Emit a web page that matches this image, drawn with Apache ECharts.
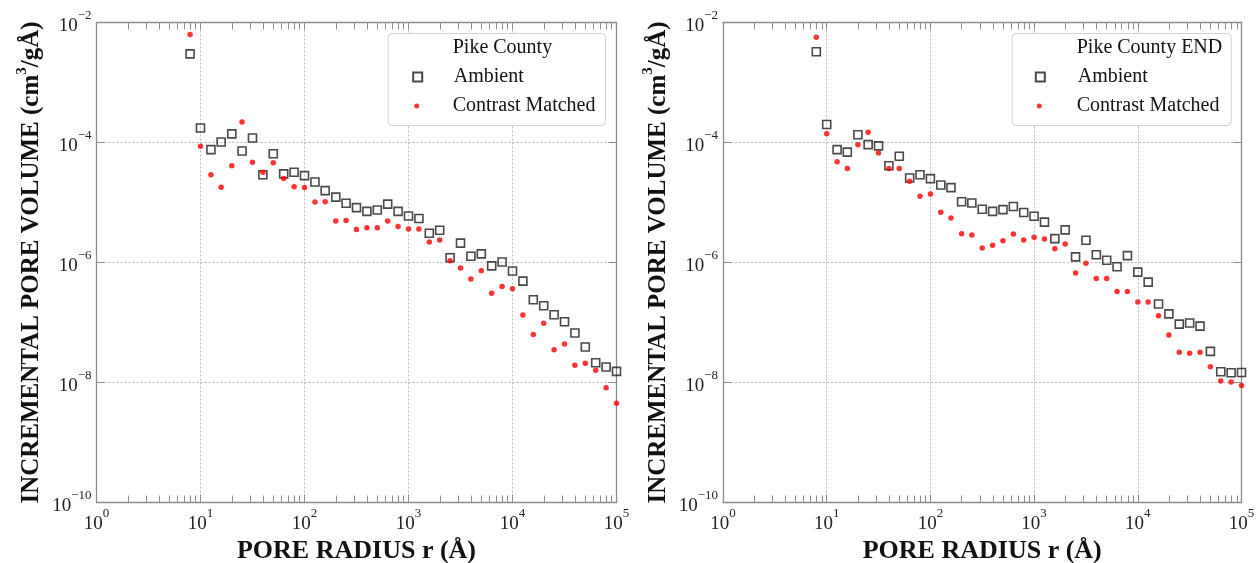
<!DOCTYPE html>
<html>
<head>
<meta charset="utf-8">
<script src="https://cdn.jsdelivr.net/npm/echarts@6/dist/echarts.min.js"></script>
<style>html,body{margin:0;padding:0;background:#fff}#c{width:1259px;height:563px}</style>
</head>
<body>
<div id="c"></div>
<script>
// Pore radius (Å) – same grid for every series
const radius = [7.94, 10, 12.6, 15.8, 20, 25.1, 31.6, 39.8, 50.1, 63.1, 79.4,
  100, 126, 158, 200, 251, 316, 398, 501, 631, 794,
  1000, 1259, 1585, 1995, 2512, 3162, 3981, 5012, 6310, 7943,
  10000, 12589, 15849, 19953, 25119, 31623, 39811, 50119, 63096, 79433, 100000];

// Pike County
const pikeAmbient = [3.0e-3, 1.74e-4, 7.6e-5, 1.02e-4, 1.39e-4, 7.2e-5, 1.19e-4, 2.9e-5, 6.5e-5, 3.0e-5, 3.2e-5,
  2.8e-5, 2.2e-5, 1.58e-5, 1.23e-5, 9.7e-6, 8.2e-6, 7.1e-6, 7.5e-6, 9.4e-6, 7.1e-6,
  5.96e-6, 5.4e-6, 3.07e-6, 3.44e-6, 1.2e-6, 2.1e-6, 1.27e-6, 1.39e-6, 8.8e-7, 1.02e-6,
  7.2e-7, 4.9e-7, 2.4e-7, 1.9e-7, 1.35e-7, 1.03e-7, 6.7e-8, 3.9e-8, 2.14e-8, 1.81e-8, 1.53e-8];
const pikeContrast = [6.3e-3, 8.7e-5, 2.9e-5, 1.8e-5, 4.1e-5, 2.2e-4, 4.7e-5, 3.2e-5, 4.6e-5, 2.5e-5, 1.83e-5,
  1.77e-5, 1.02e-5, 1.03e-5, 4.9e-6, 5.0e-6, 3.55e-6, 3.8e-6, 3.8e-6, 4.9e-6, 4.0e-6,
  3.6e-6, 3.6e-6, 2.2e-6, 2.37e-6, 1.07e-6, 8.1e-7, 5.3e-7, 7.3e-7, 3.07e-7, 4.0e-7,
  3.66e-7, 1.33e-7, 6.3e-8, 9.7e-8, 3.5e-8, 4.4e-8, 1.94e-8, 2.09e-8, 1.6e-8, 8.2e-9, 4.5e-9];

// Pike County END
const endAmbient = [3.26e-3, 2.0e-4, 7.6e-5, 6.9e-5, 1.35e-4, 9.2e-5, 8.8e-5, 4.1e-5, 5.9e-5, 2.56e-5, 2.9e-5,
  2.5e-5, 1.96e-5, 1.77e-5, 1.03e-5, 9.8e-6, 7.7e-6, 7.1e-6, 7.6e-6, 8.6e-6, 6.8e-6,
  5.9e-6, 4.7e-6, 2.5e-6, 3.5e-6, 1.24e-6, 2.35e-6, 1.35e-6, 1.09e-6, 8.5e-7, 1.30e-6,
  6.9e-7, 4.7e-7, 2.03e-7, 1.39e-7, 9.4e-8, 9.8e-8, 8.7e-8, 3.3e-8, 1.51e-8, 1.45e-8, 1.47e-8];
const endContrast = [5.7e-3, 1.40e-4, 4.8e-5, 3.7e-5, 9.2e-5, 1.48e-4, 6.7e-5, 3.7e-5, 3.7e-5, 2.26e-5, 1.27e-5,
  1.39e-5, 6.9e-6, 5.5e-6, 3.0e-6, 2.87e-6, 1.75e-6, 1.94e-6, 2.3e-6, 2.99e-6, 2.37e-6,
  2.63e-6, 2.46e-6, 1.7e-6, 2.03e-6, 6.7e-7, 9.7e-7, 5.4e-7, 5.4e-7, 3.3e-7, 3.3e-7,
  2.2e-7, 2.2e-7, 1.29e-7, 6.2e-8, 3.2e-8, 3.07e-8, 3.2e-8, 1.83e-8, 1.06e-8, 1.02e-8, 8.9e-9];

const panelTitles = ['Pike County', 'Pike County END'];
const seriesNames = ['Ambient', 'Contrast Matched'];
const xTickValues = [1, 10, 100, 1000, 10000, 100000];
const yTickValues = [1e-10, 1e-8, 1e-6, 1e-4, 1e-2];
const xTitle = 'PORE RADIUS r (Å)';

const xMinorTicks = [];
for (let d = 1; d < 1e5; d *= 10) for (let m = 1; m <= 10; m++) xMinorTicks.push(d * m);

const SERIF = '"Liberation Serif", "Times New Roman", serif';
const AXIS_COLOR = '#8a8a8a';

const powRich = {
  b: { fontFamily: SERIF, fontSize: 19, color: '#222', lineHeight: 26, verticalAlign: 'bottom' },
  s: { fontFamily: SERIF, fontSize: 13, color: '#222', lineHeight: 14, verticalAlign: 'top' }
};
function powFmt(v) {
  const e = Math.round(Math.log10(v));
  return '{b|10}{s|' + (e < 0 ? '\u2212' + (-e) : e) + '}';
}

const grids = [
  { left: 96.5, top: 22.5, width: 520, height: 480, outerBoundsMode: 'none', containLabel: false },
  { left: 723, top: 22.5, width: 518.5, height: 480, outerBoundsMode: 'none', containLabel: false }
];

const xAxis = [], yAxis = [], series = [], legend = [];
const panelData = [[pikeAmbient, pikeContrast], [endAmbient, endContrast]];

grids.forEach((g, gi) => {
  const base = { gridIndex: gi, type: 'log', logBase: 10, min: 1, max: 1e5 };
  const xMain = xAxis.length;
  xAxis.push(Object.assign({}, base, {
    position: 'bottom',
    axisLine: { show: true, lineStyle: { color: AXIS_COLOR, width: 1.3 } },
    axisTick: { show: true, inside: true, length: 8, customValues: xTickValues, lineStyle: { color: AXIS_COLOR } },
    axisLabel: { show: true, customValues: xTickValues, formatter: powFmt, rich: powRich, margin: 5 },
    splitLine: { show: true, lineStyle: { color: '#b8b8b8', type: [2, 2], width: 1 } },
    minorTick: { show: false },
    name: xTitle, nameLocation: 'middle', nameGap: 33,
    nameTextStyle: { fontFamily: SERIF, fontSize: 26, fontWeight: 'bold', color: '#111' }
  }));
  xAxis.push(Object.assign({}, base, {
    position: 'bottom',
    axisLine: { show: false },
    axisTick: { show: true, inside: true, length: 7, customValues: xMinorTicks, lineStyle: { color: AXIS_COLOR } },
    axisLabel: { show: false }, splitLine: { show: false }
  }));
  xAxis.push(Object.assign({}, base, {
    position: 'top',
    axisLine: { show: true, lineStyle: { color: AXIS_COLOR, width: 1.3 } },
    axisTick: { show: true, inside: true, length: 7, customValues: xMinorTicks, lineStyle: { color: AXIS_COLOR } },
    axisLabel: { show: false }, splitLine: { show: false }
  }));

  const ybase = { gridIndex: gi, type: 'log', logBase: 10, min: 1e-10, max: 1e-2 };
  const yMain = yAxis.length;
  yAxis.push(Object.assign({}, ybase, {
    position: 'left',
    axisLine: { show: true, lineStyle: { color: AXIS_COLOR, width: 1.3 } },
    axisTick: { show: true, inside: true, length: 8, customValues: yTickValues, lineStyle: { color: AXIS_COLOR } },
    axisLabel: { show: true, customValues: yTickValues, formatter: powFmt, rich: powRich, margin: 5 },
    splitLine: { show: true, lineStyle: { color: '#b8b8b8', type: [2, 2], width: 1 } },
    name: '{t|INCREMENTAL PORE VOLUME (cm}{u|3}{t|/gÅ)}',
    nameLocation: 'middle', nameRotate: 90, nameGap: 52,
    nameTextStyle: {
      rich: {
        t: { fontFamily: SERIF, fontSize: 25, fontWeight: 'bold', color: '#111', lineHeight: 30, verticalAlign: 'bottom' },
        u: { fontFamily: SERIF, fontSize: 15, fontWeight: 'bold', color: '#111', lineHeight: 16, verticalAlign: 'top' }
      }
    }
  }));
  yAxis.push(Object.assign({}, ybase, {
    position: 'right',
    axisLine: { show: true, lineStyle: { color: AXIS_COLOR, width: 1.3 } },
    axisTick: { show: true, inside: true, length: 8, customValues: yTickValues, lineStyle: { color: AXIS_COLOR } },
    axisLabel: { show: false }, splitLine: { show: false }
  }));

  const [amb, con] = panelData[gi];
  series.push({
    name: seriesNames[0], type: 'scatter', xAxisIndex: xMain, yAxisIndex: yMain, clip: false,
    symbol: 'rect', symbolSize: 8,
    itemStyle: { color: 'rgba(255,255,255,0)', borderColor: '#1a1a1a', borderWidth: 1.6 },
    data: radius.map((r, i) => [r, amb[i]]), z: 3
  });
  series.push({
    name: seriesNames[1], type: 'scatter', xAxisIndex: xMain, yAxisIndex: yMain, clip: false,
    symbol: 'circle', symbolSize: 5.5,
    itemStyle: { color: '#ff0000' },
    data: radius.map((r, i) => [r, con[i]]), z: 4
  });
});

// legend: symbol centre x and text start x per panel
const legendSymX = [416.7, 1039.3];
const legendTextX = [452.7, 1076.7];
[0, 1].forEach(gi => {
  const s1 = 9, s2 = 5;
  legend.push({
    data: [seriesNames[0]], left: legendSymX[gi] - s1 / 2, top: 65, orient: 'vertical', padding: 0,
    itemWidth: s1, itemHeight: s1, itemGap: 0, selectedMode: false, z: 20,
    textStyle: { fontFamily: SERIF, fontSize: 20, color: '#111', lineHeight: 24,
      padding: [0, 0, 0, legendTextX[gi] - (legendSymX[gi] + s1 / 2 + 5)] }
  });
  legend.push({
    data: [seriesNames[1]], left: legendSymX[gi] - s2 / 2, top: 94, orient: 'vertical', padding: 0,
    itemWidth: s2, itemHeight: s2, itemGap: 0, selectedMode: false, z: 20,
    textStyle: { fontFamily: SERIF, fontSize: 20, color: '#111', lineHeight: 24,
      padding: [0, 0, 0, legendTextX[gi] - (legendSymX[gi] + s2 / 2 + 5)] }
  });
});

const boxes = [{ x: 387.7, w: 217.3 }, { x: 1011.7, w: 219 }];
const graphic = [];
boxes.forEach((b, gi) => {
  graphic.push({
    type: 'rect', left: b.x, top: 33, z: 1,
    shape: { width: b.w, height: 92, r: 4 },
    style: { fill: '#fff', stroke: '#d0d0d0', lineWidth: 1 }
  });
  graphic.push({
    type: 'text', left: legendTextX[gi], top: 38, z: 21,
    style: { text: panelTitles[gi], fontFamily: SERIF, fontSize: 20, fill: '#111' }
  });
});

const chart = echarts.init(document.getElementById('c'), null, { renderer: 'canvas' });
chart.setOption({
  animation: false,
  backgroundColor: '#fff',
  grid: grids,
  xAxis, yAxis, series, legend, graphic
});
</script>
</body>
</html>
